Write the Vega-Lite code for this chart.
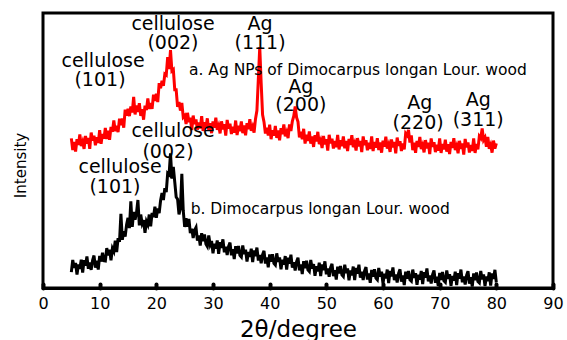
{
"$schema": "https://vega.github.io/schema/vega-lite/v6.json",
"width": 510, "height": 275,
"autosize": {"type": "none"},
"padding": {"left": 43, "top": 13, "right": 14, "bottom": 52},
"background": "white",
"config": {"view": {"stroke": "#000", "strokeWidth": 3}, "font": "DejaVu Sans", "axis": {"grid": false}},
"datasets": {
"xrd": [
{"t":5,"a":54.4,"b":5.8},{"t":5.25,"a":50.2,"b":10.2},{"t":5.5,"a":53.1,"b":7.3},{"t":5.75,"a":49.6,"b":9.1},
{"t":6,"a":54.1,"b":4.9},{"t":6.25,"a":52.0,"b":8.6},{"t":6.5,"a":55.8,"b":7.0},{"t":6.75,"a":51.6,"b":10.3},
{"t":7,"a":53.2,"b":5.6},{"t":7.25,"a":50.6,"b":10.1},{"t":7.5,"a":55.3,"b":8.1},{"t":7.75,"a":52.5,"b":11.5},
{"t":8,"a":54.6,"b":7.0},{"t":8.25,"a":50.6,"b":9.3},{"t":8.5,"a":56.5,"b":6.6},{"t":8.75,"a":53.6,"b":10.1},
{"t":9,"a":55.4,"b":11.8},{"t":9.25,"a":51.9,"b":7.4},{"t":9.5,"a":54.8,"b":9.9},{"t":9.75,"a":52.8,"b":6.7},
{"t":10,"a":57.4,"b":11.7},{"t":10.25,"a":52.4,"b":9.6},{"t":10.5,"a":56.0,"b":12.8},{"t":10.75,"a":54.3,"b":9.9},
{"t":11,"a":58.2,"b":9.8},{"t":11.25,"a":54.2,"b":14.5},{"t":11.5,"a":57.2,"b":11.9},{"t":11.75,"a":53.9,"b":13.9},
{"t":12,"a":58.6,"b":10.1},{"t":12.25,"a":56.8,"b":14.4},{"t":12.5,"a":60.9,"b":13.3},{"t":12.75,"a":57.0,"b":17.2},
{"t":13,"a":59.0,"b":13.1},{"t":13.25,"a":56.7,"b":18.1},{"t":13.5,"a":61.6,"b":16.8},{"t":13.75,"a":59.2,"b":27.0},
{"t":14,"a":61.6,"b":17.5},{"t":14.25,"a":58.3,"b":20.6},{"t":14.5,"a":64.9,"b":18.7},{"t":14.75,"a":62.7,"b":23.0},
{"t":15,"a":65.2,"b":25.5},{"t":15.25,"a":62.5,"b":21.8},{"t":15.5,"a":66.0,"b":31.5},{"t":15.75,"a":63.9,"b":22.2},
{"t":16,"a":69.5,"b":27.7},{"t":16.25,"a":63.1,"b":24.8},{"t":16.5,"a":66.4,"b":27.3},{"t":16.75,"a":64.0,"b":32.0},
{"t":17,"a":67.2,"b":22.8},{"t":17.25,"a":62.6,"b":26.7},{"t":17.5,"a":65.0,"b":23.4},{"t":17.75,"a":61.2,"b":24.7},
{"t":18,"a":66.3,"b":20.1},{"t":18.25,"a":64.7,"b":24.2},{"t":18.5,"a":68.9,"b":23.0},{"t":18.75,"a":65.1,"b":26.7},
{"t":19,"a":67.2,"b":22.4},{"t":19.25,"a":65.1,"b":27.3},{"t":19.5,"a":70.3,"b":25.8},{"t":19.75,"a":68.0,"b":29.6},
{"t":20,"a":70.6,"b":25.5},{"t":20.25,"a":67.6,"b":28.9},{"t":20.5,"a":74.5,"b":27.2},{"t":20.75,"a":72.6,"b":31.8},
{"t":21,"a":75.4,"b":34.5},{"t":21.25,"a":73.5,"b":32.0},{"t":21.5,"a":77.8,"b":36.3},{"t":21.75,"a":77.4,"b":34.9},
{"t":22,"a":84.0,"b":41.7},{"t":22.25,"a":79.6,"b":41.2},{"t":22.5,"a":86.5,"b":49.0},{"t":22.75,"a":78.9,"b":39.8},
{"t":23,"a":79.4,"b":44.0},{"t":23.25,"a":72.1,"b":38.6},{"t":23.5,"a":72.1,"b":33.1},{"t":23.75,"a":65.9,"b":32.3},
{"t":24,"a":67.6,"b":26.8},{"t":24.25,"a":64.5,"b":29.0},{"t":24.5,"a":67.3,"b":41.5},{"t":24.75,"a":62.1,"b":28.1},
{"t":25,"a":62.7,"b":22.2},{"t":25.25,"a":59.6,"b":25.4},{"t":25.5,"a":63.7,"b":22.3},{"t":25.75,"a":60.4,"b":25.1},
{"t":26,"a":61.9,"b":20.0},{"t":26.25,"a":57.4,"b":21.6},{"t":26.5,"a":62.7,"b":18.2},{"t":26.75,"a":59.6,"b":21.0},
{"t":27,"a":61.3,"b":22.0},{"t":27.25,"a":57.6,"b":17.2},{"t":27.5,"a":60.2,"b":19.1},{"t":27.75,"a":58.0,"b":15.4},
{"t":28,"a":62.5,"b":19.9},{"t":28.25,"a":57.1,"b":17.0},{"t":28.5,"a":60.3,"b":19.5},{"t":28.75,"a":58.3,"b":16.0},
{"t":29,"a":61.7,"b":15.1},{"t":29.25,"a":57.3,"b":19.1},{"t":29.5,"a":59.9,"b":15.8},{"t":29.75,"a":56.3,"b":17.1},
{"t":30,"a":60.6,"b":12.6},{"t":30.25,"a":58.3,"b":16.1},{"t":30.5,"a":61.9,"b":14.3},{"t":30.75,"a":57.5,"b":17.3},
{"t":31,"a":59.0,"b":12.4},{"t":31.25,"a":56.2,"b":16.7},{"t":31.5,"a":60.6,"b":14.6},{"t":31.75,"a":57.7,"b":17.7},
{"t":32,"a":59.6,"b":13.0},{"t":32.25,"a":55.4,"b":15.0},{"t":32.5,"a":61.1,"b":12.0},{"t":32.75,"a":58.0,"b":15.1},
{"t":33,"a":59.7,"b":16.5},{"t":33.25,"a":56.0,"b":11.9},{"t":33.5,"a":58.6,"b":14.1},{"t":33.75,"a":56.5,"b":10.5},
{"t":34,"a":60.9,"b":15.2},{"t":34.25,"a":55.6,"b":12.6},{"t":34.5,"a":59.0,"b":15.3},{"t":34.75,"a":57.0,"b":11.9},
{"t":35,"a":60.6,"b":11.3},{"t":35.25,"a":56.3,"b":15.5},{"t":35.5,"a":59.1,"b":12.4},{"t":35.75,"a":55.5,"b":13.9},
{"t":36,"a":59.9,"b":9.6},{"t":36.25,"a":57.8,"b":13.1},{"t":36.5,"a":61.4,"b":11.3},{"t":36.75,"a":57.2,"b":14.3},
{"t":37,"a":58.7,"b":9.4},{"t":37.25,"a":56.5,"b":13.7},{"t":37.5,"a":61.5,"b":11.6},{"t":37.75,"a":64.5,"b":14.7},
{"t":38,"a":76.0,"b":10.0},{"t":38.25,"a":87.6,"b":12.0},{"t":38.5,"a":74.5,"b":9.0},{"t":38.75,"a":63.0,"b":12.1},
{"t":39,"a":60.4,"b":13.5},{"t":39.25,"a":56.2,"b":8.9},{"t":39.5,"a":58.3,"b":11.1},{"t":39.75,"a":55.5,"b":7.5},
{"t":40,"a":59.4,"b":12.2},{"t":40.25,"a":54.1,"b":9.6},{"t":40.5,"a":57.4,"b":12.3},{"t":40.75,"a":55.4,"b":9.0},
{"t":41,"a":58.9,"b":8.4},{"t":41.25,"a":54.6,"b":12.6},{"t":41.5,"a":57.3,"b":9.5},{"t":41.75,"a":53.7,"b":11.1},
{"t":42,"a":58.1,"b":6.8},{"t":42.25,"a":55.9,"b":10.3},{"t":42.5,"a":59.5,"b":8.5},{"t":42.75,"a":55.2,"b":11.6},
{"t":43,"a":56.7,"b":6.7},{"t":43.25,"a":54.5,"b":11.0},{"t":43.5,"a":59.5,"b":8.9},{"t":43.75,"a":57.1,"b":12.1},
{"t":44,"a":60.6,"b":7.4},{"t":44.25,"a":62.5,"b":9.4},{"t":44.5,"a":66.0,"b":6.4},{"t":44.75,"a":62.0,"b":9.6},
{"t":45,"a":60.4,"b":11.0},{"t":45.25,"a":54.8,"b":6.4},{"t":45.5,"a":56.8,"b":8.6},{"t":45.75,"a":54.1,"b":5.1},
{"t":46,"a":57.9,"b":9.8},{"t":46.25,"a":52.5,"b":7.2},{"t":46.5,"a":55.7,"b":9.9},{"t":46.75,"a":53.5,"b":6.6},
{"t":47,"a":56.9,"b":6.0},{"t":47.25,"a":52.5,"b":10.2},{"t":47.5,"a":55.1,"b":7.1},{"t":47.75,"a":51.3,"b":8.7},
{"t":48,"a":55.6,"b":4.4},{"t":48.25,"a":53.3,"b":7.9},{"t":48.5,"a":56.8,"b":6.1},{"t":48.75,"a":52.3,"b":9.2},
{"t":49,"a":53.7,"b":4.3},{"t":49.25,"a":50.9,"b":8.6},{"t":49.5,"a":55.3,"b":6.5},{"t":49.75,"a":52.2,"b":9.7},
{"t":50,"a":54.1,"b":5.0},{"t":50.25,"a":50.0,"b":7.1},{"t":50.5,"a":55.7,"b":4.1},{"t":50.75,"a":52.6,"b":7.4},
{"t":51,"a":54.3,"b":8.8},{"t":51.25,"a":50.7,"b":4.3},{"t":51.5,"a":53.4,"b":6.5},{"t":51.75,"a":51.2,"b":3.1},
{"t":52,"a":55.7,"b":7.8},{"t":52.25,"a":50.4,"b":5.3},{"t":52.5,"a":53.7,"b":8.0},{"t":52.75,"a":51.6,"b":4.8},
{"t":53,"a":55.1,"b":4.2},{"t":53.25,"a":50.8,"b":8.5},{"t":53.5,"a":53.5,"b":5.4},{"t":53.75,"a":49.8,"b":7.1},
{"t":54,"a":54.2,"b":2.8},{"t":54.25,"a":52.0,"b":6.4},{"t":54.5,"a":55.6,"b":4.6},{"t":54.75,"a":51.2,"b":7.8},
{"t":55,"a":52.7,"b":2.9},{"t":55.25,"a":50.0,"b":7.3},{"t":55.5,"a":54.5,"b":5.2},{"t":55.75,"a":51.5,"b":8.5},
{"t":56,"a":53.5,"b":3.8},{"t":56.25,"a":49.4,"b":5.9},{"t":56.5,"a":55.1,"b":2.9},{"t":56.75,"a":52.0,"b":6.2},
{"t":57,"a":53.7,"b":7.6},{"t":57.25,"a":50.1,"b":3.1},{"t":57.5,"a":52.8,"b":5.3},{"t":57.75,"a":50.6,"b":1.9},
{"t":58,"a":55.1,"b":6.6},{"t":58.25,"a":49.8,"b":4.1},{"t":58.5,"a":53.1,"b":6.8},{"t":58.75,"a":51.0,"b":3.6},
{"t":59,"a":54.5,"b":3.0},{"t":59.25,"a":50.2,"b":7.3},{"t":59.5,"a":52.9,"b":4.2},{"t":59.75,"a":49.2,"b":5.9},
{"t":60,"a":53.6,"b":1.6},{"t":60.25,"a":51.4,"b":5.2},{"t":60.5,"a":55.0,"b":3.5},{"t":60.75,"a":50.7,"b":6.7},
{"t":61,"a":52.2,"b":1.8},{"t":61.25,"a":49.5,"b":6.2},{"t":61.5,"a":54.0,"b":4.2},{"t":61.75,"a":51.1,"b":7.5},
{"t":62,"a":53.1,"b":2.9},{"t":62.25,"a":49.0,"b":4.9},{"t":62.5,"a":54.7,"b":2.0},{"t":62.75,"a":51.7,"b":5.3},
{"t":63,"a":53.4,"b":6.8},{"t":63.25,"a":49.8,"b":2.3},{"t":63.5,"a":52.5,"b":4.6},{"t":63.75,"a":50.4,"b":1.1},
{"t":64,"a":56.2,"b":5.9},{"t":64.25,"a":55.5,"b":3.4},{"t":64.5,"a":57.5,"b":6.2},{"t":64.75,"a":52.9,"b":3.0},
{"t":65,"a":55.5,"b":2.5},{"t":65.25,"a":50.1,"b":6.7},{"t":65.5,"a":52.8,"b":3.7},{"t":65.75,"a":49.2,"b":5.4},
{"t":66,"a":53.5,"b":1.2},{"t":66.25,"a":51.3,"b":4.8},{"t":66.5,"a":54.9,"b":3.1},{"t":66.75,"a":50.5,"b":6.2},
{"t":67,"a":52.0,"b":1.4},{"t":67.25,"a":49.3,"b":5.8},{"t":67.5,"a":53.8,"b":3.8},{"t":67.75,"a":50.8,"b":7.1},
{"t":68,"a":52.8,"b":2.4},{"t":68.25,"a":48.7,"b":4.5},{"t":68.5,"a":54.4,"b":1.6},{"t":68.75,"a":51.3,"b":4.9},
{"t":69,"a":53.0,"b":6.4},{"t":69.25,"a":49.4,"b":1.9},{"t":69.5,"a":52.1,"b":4.1},{"t":69.75,"a":49.9,"b":0.7},
{"t":70,"a":54.4,"b":5.5},{"t":70.25,"a":49.1,"b":2.9},{"t":70.5,"a":52.4,"b":5.8},{"t":70.75,"a":50.4,"b":2.6},
{"t":71,"a":53.9,"b":2.1},{"t":71.25,"a":49.6,"b":6.4},{"t":71.5,"a":52.3,"b":3.3},{"t":71.75,"a":48.7,"b":5.0},
{"t":72,"a":53.1,"b":0.8},{"t":72.25,"a":50.9,"b":4.4},{"t":72.5,"a":54.5,"b":2.7},{"t":72.75,"a":50.2,"b":5.9},
{"t":73,"a":51.7,"b":1.1},{"t":73.25,"a":49.0,"b":5.4},{"t":73.5,"a":53.5,"b":3.4},{"t":73.75,"a":50.6,"b":6.7},
{"t":74,"a":52.6,"b":2.1},{"t":74.25,"a":48.5,"b":4.2},{"t":74.5,"a":54.2,"b":1.3},{"t":74.75,"a":51.2,"b":4.6},
{"t":75,"a":52.9,"b":6.1},{"t":75.25,"a":49.3,"b":1.6},{"t":75.5,"a":52.0,"b":3.9},{"t":75.75,"a":49.9,"b":0.5},
{"t":76,"a":54.4,"b":5.3},{"t":76.25,"a":49.1,"b":2.8},{"t":76.5,"a":52.4,"b":5.6},{"t":76.75,"a":50.4,"b":2.4},
{"t":77,"a":55.2,"b":1.9},{"t":77.25,"a":54.5,"b":6.2},{"t":77.5,"a":58.0,"b":3.2},{"t":77.75,"a":53.8,"b":4.9},
{"t":78,"a":54.7,"b":0.7},{"t":78.25,"a":51.4,"b":4.2},{"t":78.5,"a":54.9,"b":2.5},{"t":78.75,"a":50.6,"b":5.7},
{"t":79,"a":52.0,"b":0.9},{"t":79.25,"a":49.2,"b":5.3},{"t":79.5,"a":53.6,"b":3.3},{"t":79.75,"a":50.7,"b":6.6},
{"t":80,"a":52.6,"b":2.0}
],
"peaks": [
{"t":22.94,"v":96.0,"label":"cellulose"},{"t":22.94,"v":89.1,"label":"(002)"},
{"t":38.3,"v":96.0,"label":"Ag"},{"t":38.3,"v":89.1,"label":"(111)"},
{"t":10.6,"v":82.5,"label":"cellulose"},{"t":10.06,"v":75.6,"label":"(101)"},
{"t":45.5,"v":73.1,"label":"Ag"},{"t":45.5,"v":66.5,"label":"(200)"},
{"t":66.5,"v":67.3,"label":"Ag"},{"t":66.2,"v":60.0,"label":"(220)"},
{"t":76.8,"v":68.4,"label":"Ag"},{"t":76.8,"v":61.1,"label":"(311)"},
{"t":22.94,"v":57.1,"label":"cellulose"},{"t":22.06,"v":49.5,"label":"(002)"},
{"t":13.6,"v":44.0,"label":"cellulose"},{"t":12.7,"v":36.7,"label":"(101)"}
],
"captions": [
{"t":25.76,"v":79.3,"label":"a. Ag NPs of Dimocarpus longan Lour. wood"},
{"t":26.06,"v":28.7,"label":"b. Dimocarpus longan Lour. wood"}
]
},
"layer": [
{
"data": {"name": "xrd"},
"transform": [{"fold": ["a", "b"], "as": ["s", "v"]}],
"mark": {"type": "line", "strokeWidth": 3, "strokeJoin": "miter"},
"encoding": {
"x": {"field": "t", "type": "quantitative", "scale": {"domain": [0, 90], "nice": false},
"axis": {"title": "2θ/degree", "titleFontSize": 23, "titleFontWeight": "normal", "titleColor": "#000", "titlePadding": 7,
"values": [0,5,10,15,20,25,30,35,40,45,50,55,60,65,70,75,80,85,90],
"labelExpr": "datum.value % 10 === 0 ? datum.label : ''",
"labelFontSize": 16, "labelColor": "#000", "labelFlush": false, "labelOverlap": false, "labelPadding": 11,
"tickSize": -4, "tickWidth": 4, "tickColor": "#000", "tickCap": "round",
"domainColor": "#000", "domainWidth": 3}},
"y": {"field": "v", "type": "quantitative", "scale": {"domain": [0, 100], "nice": false},
"axis": {"title": "Intensity", "titleFontSize": 15, "titleFontWeight": "normal", "titleColor": "#000",
"labels": false, "ticks": false, "domain": false, "titleX": -23, "titleY": 152, "titleAlign": "center", "titleBaseline": "middle"}},
"color": {"field": "s", "type": "nominal", "scale": {"domain": ["a", "b"], "range": ["#ff0000", "#000000"]}, "legend": null}
}
},
{
"data": {"name": "peaks"},
"mark": {"type": "text", "fontSize": 19, "align": "center", "baseline": "middle", "color": "#000"},
"encoding": {
"x": {"field": "t", "type": "quantitative"},
"y": {"field": "v", "type": "quantitative"},
"text": {"field": "label"}
}
},
{
"data": {"name": "captions"},
"mark": {"type": "text", "fontSize": 15.5, "align": "left", "baseline": "middle", "color": "#000"},
"encoding": {
"x": {"field": "t", "type": "quantitative"},
"y": {"field": "v", "type": "quantitative"},
"text": {"field": "label"}
}
}
]
}
